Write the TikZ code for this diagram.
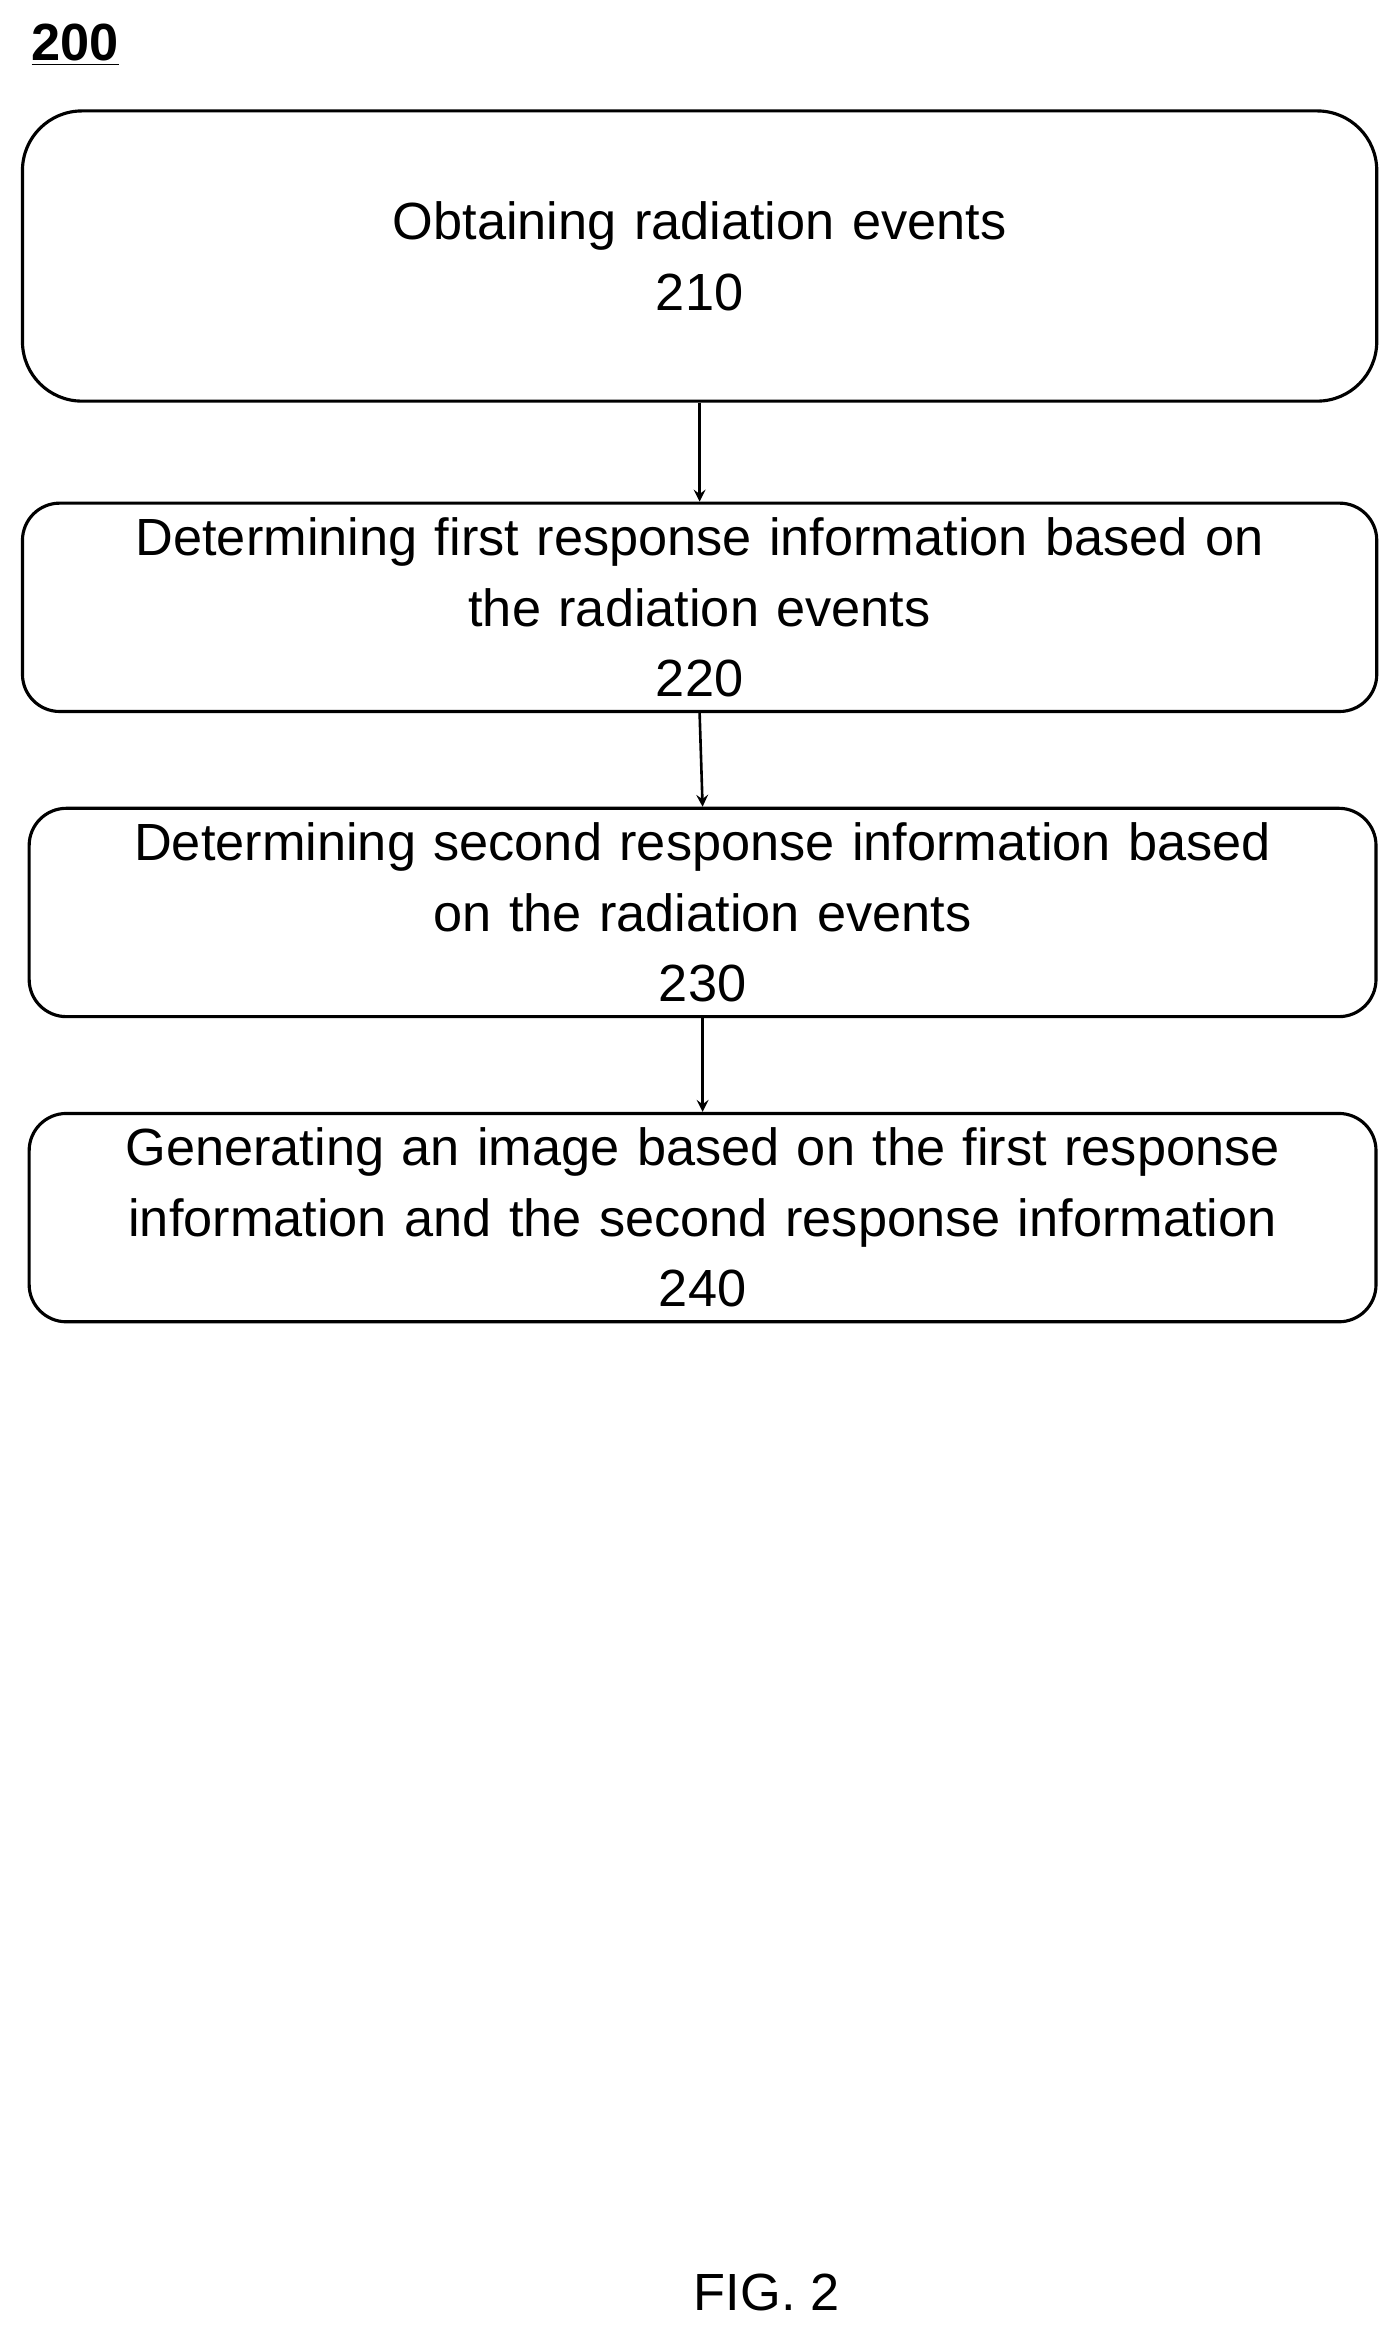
\documentclass[tikz,border=0pt]{standalone}
\usepackage{fontspec}
\setmainfont{Liberation Sans}
\usetikzlibrary{positioning}
\tikzset{
  stepbox/.style={draw, line width=1.2pt, rounded corners=0.5cm, align=center,
    text width=17.6cm, minimum width=18.2cm, font=\fontsize{20}{27}\selectfont},
  flow/.style={->, >=stealth, line width=1pt}
}
\begin{document}
\begin{tikzpicture}[x=0.02cm, y=-0.02cm]
	\useasboundingbox (0,0) rectangle (940,1568);
	
	\node[anchor=west, font=\fontsize{20}{24}\selectfont\bfseries] (lbl) at (15,30) {\underline{200}};
	
	\node[stepbox, minimum height=3.9cm, rounded corners=0.8cm] (s210) at (470,172) {Obtaining radiation events\\210};
	\node[stepbox, minimum height=2.8cm] (s220) at (470,408) {Determining first response information based on\\the radiation events\\220};
	\node[stepbox, minimum height=2.8cm, minimum width=18.1cm] (s230) at (472,613) {Determining second response information based\\on the radiation events\\230};
	\node[stepbox, minimum height=2.8cm, minimum width=18.1cm] (s240) at (472,818) {Generating an image based on the first response\\information and the second response information\\240};
	
	\draw[flow] (s210.south) -- (s220.north);
	\draw[flow] (s220.south) -- (s230.north);
	\draw[flow] (s230.south) -- (s240.north);
	
	\node[font=\fontsize{20}{24}\selectfont] (fig) at (515,1540) {FIG. 2};
\end{tikzpicture}
\end{document}
